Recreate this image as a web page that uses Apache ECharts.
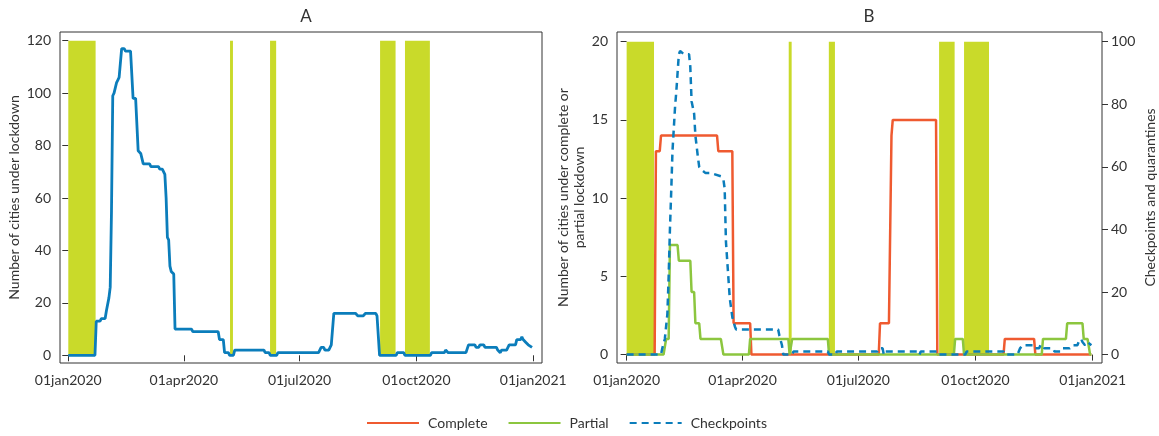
<!DOCTYPE html>
<html>
<head>
<meta charset="utf-8">
<script src="https://cdn.jsdelivr.net/npm/echarts@6/dist/echarts.min.js"></script>
<style>
  html, body { margin: 0; padding: 0; background: #fff; }
  #chart { width: 1159px; height: 436px; }
</style>
</head>
<body>
<div id="chart"></div>
<script>
// Days are counted from 1 January 2020 (day 0) to 1 January 2021 (day 366).
const dayTicks = [0, 91, 182, 274, 366];
const dayTickLabels = ['01jan2020', '01apr2020', '01jul2020', '01oct2020', '01jan2021'];
const yTicksA = [0, 20, 40, 60, 80, 100, 120];
const yTicksB = [0, 5, 10, 15, 20];
const yTicksBRight = [0, 20, 40, 60, 80, 100];

// Shaded periods [start day, end day]
const shadedPeriods = [[0, 21.5], [127.3, 129.6], [158.8, 163.6], [245.4, 257.6], [265, 284.6]];

// Panel A: number of cities under lockdown, [day, cities]
const lockdownCities = [
  [0, 0], [21, 0], [22, 13], [25, 13], [26, 14], [29, 14], [30, 17], [31, 17], [32, 22], [33, 26],
  [34, 55], [35, 99], [36, 100], [37, 102], [38, 104], [39, 105], [40, 106], [41, 106], [42, 117],
  [44, 117], [45, 116], [49, 116], [51, 98], [53, 98], [55, 78], [57, 77], [59, 73], [64, 73],
  [65, 72], [71, 72], [72, 71], [74, 71], [76, 69], [77, 60], [78, 45], [79, 44], [80, 34],
  [81, 32], [83, 31], [84, 10], [97, 10], [98, 9], [118, 9], [119, 6], [122, 6], [123, 1],
  [126, 1], [127, 0], [130, 0], [131, 2], [154, 2], [155, 1], [158, 1], [159, 0], [164, 0],
  [165, 1], [197, 1], [199, 3], [201, 3], [202, 2], [205, 2], [207, 4], [209, 16], [226, 16],
  [228, 15], [232, 15], [234, 16], [242, 16], [243, 15], [244, 15], [245, 0], [258, 0],
  [259, 1], [264, 1], [265, 0], [285, 0], [286, 1], [296, 1], [297, 2], [298, 2], [299, 1],
  [313, 1], [315, 4], [320, 4], [321, 3], [323, 3], [324, 4], [327, 4], [328, 3], [337, 3],
  [338, 2], [340, 1], [341, 2], [345, 2], [347, 4], [352, 4], [353, 6], [356, 6], [357, 7],
  [358, 6], [360, 5], [362, 4], [365, 3]
];

// Panel B: cities under complete lockdown, [day, cities]
const completeLockdown = [
  [0, 0], [22, 0], [23, 13], [26, 13], [27, 14], [71, 14], [72, 13], [83, 13], [84, 2],
  [97, 2], [98, 0], [198, 0], [199, 2], [206, 2], [208, 14], [209, 15], [243, 15], [244, 0],
  [296, 0], [297, 1], [320, 1], [321, 0], [365, 0]
];

// Panel B: cities under partial lockdown, [day, cities]
const partialLockdown = [
  [0, 0], [29, 0], [31, 1], [33, 1], [34, 7], [40, 7], [41, 6], [50, 6], [51, 4], [53, 4],
  [54, 2], [57, 2], [58, 1], [74, 1], [76, 0], [96, 0], [97, 1], [127, 1], [128, 0], [129, 0],
  [130, 1], [158, 1], [159, 0], [257, 0], [258, 1], [264, 1], [265, 0], [326, 0], [327, 1],
  [345, 1], [346, 2], [358, 2], [359, 1], [362, 1], [364, 0], [365, 0]
];

// Panel B: checkpoints and quarantines, [day, count]
const checkpoints = [
  [0, 0], [27, 0], [28, 2], [30, 5], [31, 9], [32, 13], [33, 25], [34, 40], [35, 52], [36, 65],
  [37, 72], [38, 79], [39, 84], [40, 90], [41, 96], [42, 97], [45, 96], [49, 96], [50, 92],
  [51, 81], [52, 79], [53, 77], [54, 70], [56, 63], [57, 60], [59, 59], [62, 58], [66, 58],
  [74, 57], [76, 56], [77, 53], [78, 36], [79, 30], [80, 24], [81, 18], [83, 12], [85, 9],
  [86, 8], [119, 8], [120, 6], [122, 3], [123, 0], [130, 0], [131, 1], [158, 1], [159, 0],
  [164, 0], [165, 1], [197, 1], [198, 2], [201, 2], [202, 0], [203, 1], [229, 1], [230, 0],
  [231, 1], [244, 1], [245, 0], [266, 0], [267, 1], [296, 1], [297, 0], [307, 0], [309, 2],
  [311, 3], [320, 3], [321, 2], [324, 2], [325, 3], [327, 3], [328, 2], [335, 2], [336, 1],
  [341, 1], [342, 2], [348, 2], [350, 3], [354, 3], [355, 4], [357, 5], [358, 4], [360, 3],
  [362, 4], [365, 3]
];

const FONT = 'Lato, "Open Sans", sans-serif';
const FONT_SIZE = 14;
const TEXT = '#333333';
const FRAME = '#333333';
const BAND = '#c9da2a';
const BLUE = '#0b7dbb';
const RED = '#ef5a30';
const GREEN = '#8cc63f';

function dayAxis(gridIndex, min, max) {
  return {
    type: 'value', gridIndex, min, max,
    axisLine: { show: false },
    splitLine: { show: false },
    axisTick: { show: true, length: 6, customValues: dayTicks, lineStyle: { color: FRAME, width: 1 } },
    axisLabel: {
      customValues: dayTicks,
      formatter: v => dayTickLabels[dayTicks.indexOf(v)],
      margin: 10, color: TEXT, fontSize: FONT_SIZE, fontFamily: FONT
    }
  };
}

function countAxis(gridIndex, min, max, ticks, position, name, nameGap) {
  return {
    type: 'value', gridIndex, min, max, position,
    name, nameLocation: 'middle', nameGap,
    nameTextStyle: { color: TEXT, fontSize: FONT_SIZE, fontFamily: FONT, lineHeight: 16 },
    axisLine: { show: false },
    splitLine: { show: false },
    axisTick: { show: true, length: 6, customValues: ticks, lineStyle: { color: FRAME, width: 1 } },
    axisLabel: { customValues: ticks, margin: 9, color: TEXT, fontSize: FONT_SIZE, fontFamily: FONT }
  };
}

function bandSeries(xAxisIndex, yAxisIndex, top) {
  return {
    type: 'line', xAxisIndex, yAxisIndex, data: [], z: 1, silent: true,
    markArea: {
      silent: true,
      itemStyle: { color: BAND },
      data: shadedPeriods.map(([s, e]) => [{ xAxis: s, yAxis: 0 }, { xAxis: e, yAxis: top }])
    }
  };
}

const chart = echarts.init(document.getElementById('chart'), null, { renderer: 'canvas' });
chart.setOption({
  animation: false,
  backgroundColor: '#ffffff',
  textStyle: { fontFamily: FONT },
  title: [
    { text: 'A', left: 301, top: 3, textAlign: 'center', textStyle: { fontSize: 17, fontWeight: 'normal', color: TEXT, fontFamily: FONT } },
    { text: 'B', left: 864, top: 3, textAlign: 'center', textStyle: { fontSize: 17, fontWeight: 'normal', color: TEXT, fontFamily: FONT } }
  ],
  grid: [
    { left: 60, top: 32, width: 482, height: 331, show: true, borderColor: FRAME, borderWidth: 1, backgroundColor: 'transparent' },
    { left: 617, top: 32, width: 493, height: 331, show: true, borderColor: FRAME, borderWidth: 1, backgroundColor: 'transparent' }
  ],
  xAxis: [
    dayAxis(0, -6.53, 372.85),
    dayAxis(1, -7.57, 373.34)
  ],
  yAxis: [
    countAxis(0, -2.94, 123.32, yTicksA, 'left', 'Number of cities under lockdown', 37),
    countAxis(1, -0.537, 20.62, yTicksB, 'left', 'Number of cities under complete or\npartial lockdown', 27),
    countAxis(1, -2.685, 103.1, yTicksBRight, 'right', 'Checkpoints and quarantines', 40)
  ],
  legend: {
    data: ['Complete', 'Partial', 'Checkpoints'],
    left: 366, top: 416, padding: 0,
    itemWidth: 52, itemHeight: 14, itemGap: 20,
    itemStyle: { opacity: 0 },
    textStyle: { color: TEXT, fontSize: FONT_SIZE, fontFamily: FONT, padding: [0, 0, 0, 4] }
  },
  series: [
    bandSeries(0, 0, 120),
    {
      name: 'Cities under lockdown', type: 'line', xAxisIndex: 0, yAxisIndex: 0, z: 3,
      data: lockdownCities, symbol: 'none', lineStyle: { color: BLUE, width: 2.8 }
    },
    bandSeries(1, 1, 20),
    {
      name: 'Complete', type: 'line', xAxisIndex: 1, yAxisIndex: 1, z: 3,
      data: completeLockdown, symbol: 'none', color: RED, lineStyle: { color: RED, width: 2.5 }
    },
    {
      name: 'Partial', type: 'line', xAxisIndex: 1, yAxisIndex: 1, z: 4,
      data: partialLockdown, symbol: 'none', color: GREEN, lineStyle: { color: GREEN, width: 2.5 }
    },
    {
      name: 'Checkpoints', type: 'line', xAxisIndex: 1, yAxisIndex: 2, z: 5,
      data: checkpoints, symbol: 'none', color: BLUE, lineStyle: { color: BLUE, width: 2.5, type: [7, 5] }
    }
  ]
});
</script>
</body>
</html>
